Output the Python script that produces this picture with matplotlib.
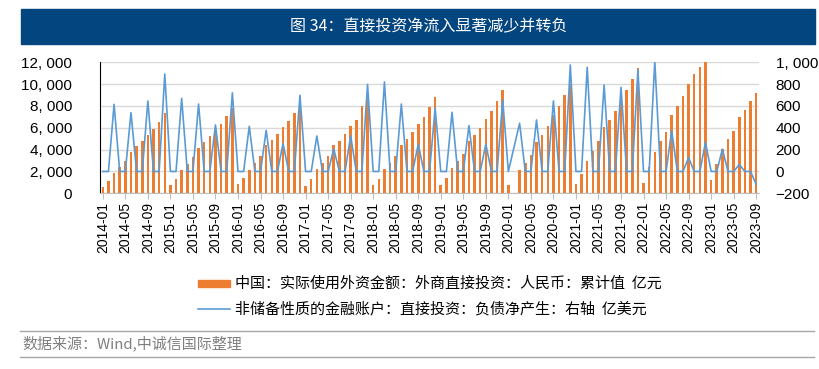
import numpy as np
import matplotlib
matplotlib.use("Agg")
import matplotlib.pyplot as plt
from matplotlib.patches import Rectangle
from matplotlib.lines import Line2D

plt.rcParams['font.family'] = ['Noto Sans CJK SC', 'DejaVu Sans']

# 月份标签 2014-01 ~ 2023-09
months = [f"{y}-{m:02d}" for y in range(2014, 2024) for m in range(1, 13)][:117]

# 中国:实际使用外资金额:外商直接投资:人民币:累计值 (亿元)
fdi_2014 = [600, 1130, 1890, 2410, 2960, 3820, 4370, 4790, 5370, 5860, 6530, 7360]
fdi_2015 = [790, 1310, 2100, 2690, 3300, 4150, 4670, 5250, 5740, 6350, 7050, 7850]
fdi_2016 = [820, 1370, 2170, 2810, 3390, 4400, 4860, 5470, 6080, 6630, 7330, 8090]
fdi_2017 = [700, 1310, 2200, 2810, 3420, 4400, 4820, 5440, 6170, 6750, 8030, 8760]
fdi_2018 = [730, 1310, 2230, 2810, 3420, 4430, 4950, 5590, 6350, 6990, 7940, 8850]
fdi_2019 = [790, 1400, 2350, 2990, 3600, 4790, 5310, 6020, 6810, 7510, 8460, 9440]
fdi_2020 = [790, np.nan, 2110, 2810, 3540, 4670, 5340, 6170, 7150, 8000, 9010, 10020]
fdi_2021 = [850, 1740, 2990, 3910, 4790, 6110, 6750, 7540, 8610, 9470, 10440, 11450]
fdi_2022 = [980, 2380, 3790, 4790, 5620, 7210, 7970, 8920, 10050, 10900, 11570, 12330]
fdi_2023 = [1220, 2660, 4030, 5010, 5710, 7020, 7630, 8460, 9210]
fdi = np.array(fdi_2014 + fdi_2015 + fdi_2016 + fdi_2017 + fdi_2018
               + fdi_2019 + fdi_2020 + fdi_2021 + fdi_2022 + fdi_2023, dtype=float)

# 非储备性质的金融账户:直接投资:负债净产生 (亿美元, 右轴)
dil_2014 = [0, 0, 615, 0, 0, 539, 0, 0, 646, 0, 0, 893]
dil_2015 = [0, 0, 670, 0, 0, 618, 0, 0, 426, 0, 0, 720]
dil_2016 = [0, 0, 414, 0, 0, 377, 0, 0, 255, 0, 0, 698]
dil_2017 = [0, 0, 325, 0, 0, 206, 0, 0, 325, 0, 0, 798]
dil_2018 = [0, 0, 820, 0, 0, 618, 0, 0, 249, 0, 0, 579]
dil_2019 = [0, 0, 542, 0, 0, 420, 0, 0, 249, 0, 0, 655]
dil_2020 = [0, np.nan, 441, 0, 0, 472, 0, 0, 646, 0, 0, 976]
dil_2021 = [0, 0, 954, 0, 0, 792, 0, 0, 771, 0, 0, 930]
dil_2022 = [0, 0, 1010, 0, 0, 374, 0, 0, 127, 0, 0, 267]
dil_2023 = [0, 0, 203, 0, 0, 63, 0, 0, -118]
dil = np.array(dil_2014 + dil_2015 + dil_2016 + dil_2017 + dil_2018
               + dil_2019 + dil_2020 + dil_2021 + dil_2022 + dil_2023, dtype=float)

left_ticks = [0, 2000, 4000, 6000, 8000, 10000, 12000]
right_ticks = [-200, 0, 200, 400, 600, 800, 1000]

orange = "#ED7D31"
blue = "#5B9BD5"
W, H = 819, 369

fig = plt.figure(figsize=(W / 100, H / 100), dpi=100)
ax = fig.add_axes([100 / W, 1 - 193.3 / H, 659 / W, 131 / H])

x = np.arange(len(months))
ax.bar(x, fdi, width=0.45, color=orange, zorder=2)
ax.set_xlim(-0.5, len(months) - 0.5)
ax.set_ylim(0, 12000)
ax.set_yticks(left_ticks)
ax.set_yticklabels([f"{v:,}".replace(",", ", ") for v in left_ticks],
                   fontsize=11, family="Liberation Sans")
ax.grid(axis="y", color="#d9d9d9", lw=1, zorder=0)
ax.set_axisbelow(True)
ax.set_xticks(x[::4])
ax.set_xticklabels(months[::4], rotation=90, fontsize=10, family="Liberation Sans")
ax.tick_params(axis="x", length=4, color="#bfbfbf", pad=2)
ax.tick_params(axis="y", length=0, pad=20)
for s in ["top", "right"]:
    ax.spines[s].set_visible(False)
ax.spines["left"].set_color("black")
ax.spines["bottom"].set_color("#bfbfbf")

ax2 = ax.twinx()
ok = ~np.isnan(dil)
ax2.plot(x[ok], dil[ok], color=blue, lw=1.2)
ax2.set_ylim(-200, 1000)
ax2.set_yticks(right_ticks)
ax2.set_yticklabels([f"{v:,}".replace(",", ", ").replace("-", "\u2212") for v in right_ticks],
                    fontsize=11, family="Liberation Sans")
ax2.tick_params(axis="y", length=0, pad=12)
for s in ["top", "right", "left", "bottom"]:
    ax2.spines[s].set_visible(False)

# 标题栏
fig.patches.append(Rectangle((21 / W, 1 - 44 / H), 794 / W, 35 / H,
                             transform=fig.transFigure, color="#03457F"))
fig.text(429 / W, 1 - 26.5 / H, "图 34：直接投资净流入显著减少并转负",
         color="white", ha="center", va="center", fontsize=11.5)

# 图例
fig.patches.append(Rectangle((198 / W, 1 - 287 / H), 32 / W, 7 / H,
                             transform=fig.transFigure, color=orange))
fig.text(235 / W, 1 - 283.5 / H, "中国：实际使用外资金额：外商直接投资：人民币：累计值  亿元",
         ha="left", va="center", fontsize=10.8)
fig.lines.append(Line2D([198 / W, 230 / W], [1 - 309 / H] * 2,
                        transform=fig.transFigure, color=blue, lw=1.2))
fig.text(235 / W, 1 - 309 / H, "非储备性质的金融账户：直接投资：负债净产生：右轴  亿美元",
         ha="left", va="center", fontsize=10.8)

# 数据来源
for yy in [331, 357]:
    fig.lines.append(Line2D([20 / W, 814 / W], [1 - yy / H] * 2,
                            transform=fig.transFigure, color="#a6a6a6", lw=1))
fig.text(22 / W, 1 - 343 / H, "数据来源：Wind,中诚信国际整理",
         ha="left", va="center", fontsize=10.8, color="#7f7f7f")

fig.savefig("out.png", dpi=100)
